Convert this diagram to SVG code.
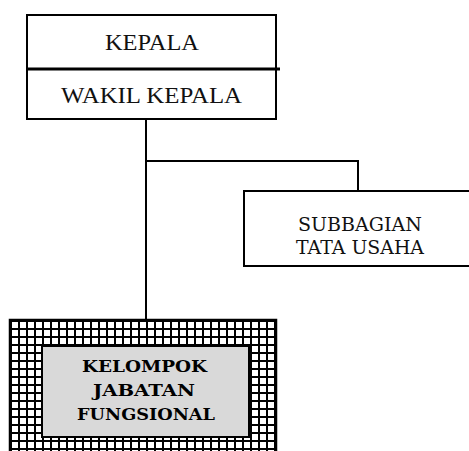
<svg xmlns="http://www.w3.org/2000/svg" width="469" height="451" viewBox="0 0 469 451">
<defs>
<style>
.box{fill:#fff;stroke:#000;stroke-width:2}
.ln{fill:none;stroke:#000;stroke-width:2}
.t1{font-family:"Liberation Serif",serif;font-size:24px;fill:#111}
.t2{font-family:"DejaVu Serif",serif;font-size:18px;fill:#111}
.t3{font-family:"DejaVu Serif",serif;font-size:17px;font-weight:bold;fill:#000}
</style>
<pattern id="grid" x="10" y="320" width="8" height="8" patternUnits="userSpaceOnUse">
<rect width="8" height="8" fill="#fff"/>
<rect width="8" height="2" fill="#000"/>
<rect width="2" height="8" fill="#000"/>
</pattern>
</defs>
<rect width="469" height="451" fill="#fff"/>
<g id="connectors">
<path class="ln" d="M146 119V320"/>
<path class="ln" d="M146 161H358V191"/>
</g>
<g id="kepala">
<rect class="box" x="27" y="15" width="249" height="104"/>
<line x1="27" y1="69" x2="280" y2="69" stroke="#000" stroke-width="3"/>
<text class="t1" x="105" y="50" textLength="94" lengthAdjust="spacingAndGlyphs">KEPALA</text>
<text class="t1" x="61" y="103" textLength="181" lengthAdjust="spacingAndGlyphs">WAKIL KEPALA</text>
</g>
<g id="subbagian">
<rect class="box" x="244" y="191" width="240" height="75"/>
<text class="t2" x="298" y="231" textLength="124" lengthAdjust="spacingAndGlyphs">SUBBAGIAN</text>
<text class="t2" x="296" y="254" textLength="128" lengthAdjust="spacingAndGlyphs">TATA USAHA</text>
</g>
<g id="fungsional">
<rect x="10" y="320" width="266" height="140" fill="url(#grid)" stroke="#000" stroke-width="2.5"/>
<rect x="42" y="346" width="207" height="91" fill="#d9d9d9" stroke="#000" stroke-width="2"/>
<text class="t3" x="82" y="372" textLength="125" lengthAdjust="spacingAndGlyphs">KELOMPOK</text>
<text class="t3" x="93" y="396" textLength="102" lengthAdjust="spacingAndGlyphs">JABATAN</text>
<text class="t3" x="77" y="420" textLength="138" lengthAdjust="spacingAndGlyphs">FUNGSIONAL</text>
</g>
</svg>
